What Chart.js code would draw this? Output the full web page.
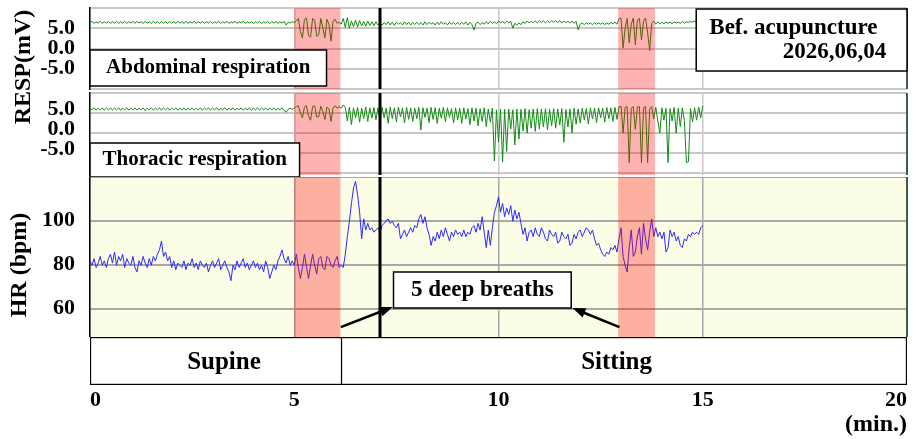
<!DOCTYPE html>
<html>
<head>
<meta charset="utf-8">
<script src="https://cdn.jsdelivr.net/npm/chart.js@4.4.1/dist/chart.umd.min.js"></script>
<style>
  html, body { margin: 0; padding: 0; background: #fff; }
  #wrap { position: relative; width: 920px; height: 439px; overflow: hidden; font-family: 'Liberation Serif', serif; }
  canvas { position: absolute; left: 0; }
  .ytitle { position: absolute; font-weight: bold; font-size: 24px; white-space: nowrap;
            transform: translate(-50%, -50%) rotate(-90deg); }
</style>
</head>
<body>
<div id="wrap">
  <canvas id="cAbd" width="920" height="92" style="top:0"></canvas>
  <canvas id="cTho" width="920" height="85" style="top:92px"></canvas>
  <canvas id="cHr" width="920" height="160" style="top:177px"></canvas>
  <canvas id="cPos" width="920" height="102" style="top:337px"></canvas>
  <div class="ytitle" style="left:22px; top:67px">RESP(mV)</div>
  <div class="ytitle" style="left:18px; top:265px">HR (bpm)</div>
</div>
<script>
const STEP = 0.05; // minutes between samples
const RESP_TICKS = [5, 0, -5];
const HR_TICKS = [100, 80, 60];
const DEEP_BREATHS = [[5.0, 6.13], [12.93, 13.83]];
const MARKER_AT = 7.09;
const PHASES = ['Supine', 'Sitting'];
const PHASE_START = [0, 6.17];
const PHASE_END = [6.17, 20];
const PHASE_LABEL_AT = [3.28, 12.89];

// abdominal respiration (mV), one row per minute
const ABD = [
  6.4,6.7,6.2,6.6,6.3,6.7,6.2,6.6,6.3,6.7,6.2,6.6,6.3,6.7,6.2,6.6,6.3,6.7,6.2,6.6,
  6.3,6.7,6.2,6.7,6.3,6.6,6.2,6.7,6.3,6.6,6.2,6.7,6.3,6.6,6.2,6.7,6.3,6.6,6.2,6.7,
  6.3,6.6,6.2,6.7,6.3,6.6,6.2,6.7,6.2,6.6,6.3,6.7,6.2,6.6,6.3,6.7,6.2,6.6,6.3,6.7,
  6.2,6.6,6.3,6.7,6.2,6.6,6.3,6.7,6.2,6.6,6.3,6.7,6.2,6.6,6.3,6.7,6.2,6.6,6.3,6.6,
  6.2,6.6,6.3,6.7,6.2,6.6,6.3,6.7,6.2,6.6,6.3,6.7,6.2,6.6,6.3,6.7,5.8,6.5,6.3,6.6,
  6.4,6.8,7.4,4.2,2.6,7.2,7.5,3.2,2.8,7.4,7.0,3.0,3.4,7.4,5.0,2.6,7.2,6.0,1.8,6.8,
  7.2,6.2,6.5,6.0,7.4,5.2,7.6,5.0,6.8,5.4,7.0,5.3,6.9,5.6,6.7,5.5,6.8,5.7,6.6,5.6,
  6.6,5.8,6.5,5.7,6.4,5.9,6.6,5.8,6.5,5.7,6.5,6.0,6.4,5.8,6.6,5.9,6.5,5.8,6.4,5.9,
  6.5,5.9,6.4,5.8,6.6,5.9,6.5,6.0,6.4,5.8,6.5,5.9,6.6,6.0,6.4,5.8,6.5,6.0,6.4,5.9,
  6.5,5.9,6.4,6.0,6.6,5.8,6.5,5.9,4.6,6.2,6.5,5.9,6.4,6.0,6.6,6.1,6.7,6.2,6.6,6.1,
  6.8,6.3,6.7,6.2,6.8,6.3,6.7,5.0,6.2,5.8,6.3,5.9,6.6,6.2,6.8,6.3,6.7,6.4,6.8,6.3,
  6.8,6.4,6.9,6.3,6.8,6.4,6.9,6.5,6.8,6.4,6.9,6.3,6.8,6.4,6.7,6.3,6.8,6.2,6.7,4.6,
  6.0,6.3,5.9,6.4,6.0,6.3,5.9,6.4,6.0,6.3,6.0,6.4,5.9,6.3,6.0,6.4,6.1,6.5,6.0,7.4,
  7.5,0.1,5.0,7.4,1.4,6.0,7.5,0.9,7.0,7.4,2.1,6.8,7.5,4.0,-0.5,6.2,6.8,6.0,6.6,6.1,
  6.5,6.1,6.6,6.2,6.5,6.1,6.6,6.3,6.5,6.2,6.7,6.3,6.6,6.4,6.7,6.5,6.8,6.4,6.7,6.5,
  6.6
];

// thoracic respiration (mV)
const THO = [
  6.2,5.8,6.3,5.7,6.2,5.8,6.3,5.7,6.2,5.8,6.3,5.7,6.2,5.8,6.3,5.7,6.2,5.8,6.3,5.7,
  6.2,5.8,6.3,5.7,6.2,5.8,6.3,5.6,6.2,5.8,6.3,5.7,6.2,5.8,6.3,5.7,6.2,5.8,6.3,5.7,
  6.2,5.8,6.3,5.7,6.2,5.8,6.3,5.7,6.2,5.8,6.3,5.7,6.2,5.8,6.3,5.7,6.2,5.8,6.3,5.7,
  6.2,5.8,6.3,5.7,6.2,5.8,6.3,5.7,6.2,5.8,6.3,5.7,6.2,5.8,6.3,5.7,6.2,5.8,6.3,5.7,
  6.2,5.8,6.3,5.7,6.2,5.8,6.3,5.7,6.2,5.8,6.3,5.7,6.2,5.8,6.3,5.6,5.2,5.9,6.2,5.9,
  6.2,6.6,6.8,5.0,3.8,6.5,6.8,4.2,3.2,6.6,6.8,4.0,4.1,6.7,5.4,3.4,6.5,6.0,2.9,6.2,
  6.8,6.2,6.6,6.2,7.0,6.4,3.0,6.5,2.1,6.3,3.8,6.4,2.7,6.2,3.6,6.5,2.9,6.3,3.7,6.4,
  3.3,6.3,2.6,6.4,3.8,6.2,2.4,6.5,3.6,6.3,2.8,6.5,4.0,6.2,2.5,6.4,3.4,6.3,2.9,6.2,
  3.6,6.4,0.7,6.3,3.9,6.2,2.6,6.4,3.4,6.3,2.4,6.2,3.7,6.4,2.8,6.3,3.9,6.1,2.5,6.3,
  3.3,6.2,2.4,6.3,3.5,6.1,2.1,6.3,3.0,6.2,1.8,6.1,2.9,6.3,1.6,6.0,2.7,6.2,-7.0,5.8,
  -2.3,6.0,-7.3,5.9,-4.6,6.0,1.0,5.8,-3.0,6.0,-1.5,5.9,0.5,6.1,0.0,5.8,1.2,6.0,0.4,6.1,
  1.0,6.0,1.5,6.1,0.8,5.9,1.8,6.1,1.2,6.0,2.0,6.1,-2.3,5.9,1.5,6.0,0.0,6.2,2.2,6.0,
  2.5,6.2,3.3,6.1,2.2,6.3,3.5,6.2,2.6,6.3,3.8,6.2,2.7,6.4,3.6,6.3,2.9,6.4,3.4,6.6,
  6.6,0.0,6.4,6.6,-7.4,6.2,6.6,0.9,6.5,6.6,-7.4,6.3,6.6,-7.4,6.0,6.6,3.5,6.4,3.0,0.0,
  6.3,3.2,6.2,-7.4,6.1,3.0,6.4,0.0,6.2,1.6,6.3,3.1,-7.4,-7.2,6.1,2.8,6.3,3.2,6.5,3.8,
  6.8
];

// heart rate (bpm)
const HR = [
  82,80,83,79,81,84,80,82,79,83,85,81,86,80,84,82,85,79,83,81,
  80,84,79,77,82,80,84,81,79,83,80,84,82,85,87,91,84,86,82,84,
  79,82,78,81,80,79,82,78,81,80,83,79,81,78,82,80,79,81,77,80,
  82,79,81,83,78,80,82,79,77,73,80,78,82,79,81,83,79,81,78,80,
  82,79,81,78,80,77,82,79,74,77,80,78,82,84,87,83,81,84,80,82,
  80,85,79,74,79,85,79,74,80,85,80,76,83,84,79,78,84,83,80,79,
  82,84,79,80,79,85,93,100,108,115,118,112,104,92,101,96,99,96,97,95,
  96,97,95,98,99,100,101,99,100,98,97,99,92,94,96,93,95,97,95,98,
  97,101,103,99,102,97,94,89,93,91,95,92,96,93,97,94,91,95,93,96,
  94,95,93,96,93,95,94,97,98,95,99,96,102,95,88,96,89,97,104,107,
  111,104,108,102,106,103,107,100,105,101,104,99,94,97,91,95,96,93,97,94,
  93,97,95,92,91,96,94,93,95,90,91,95,93,92,94,89,90,94,92,95,
  96,93,95,97,96,94,96,92,89,90,87,85,84,86,85,88,87,89,86,92,
  97,84,80,77,88,96,84,86,93,97,85,99,92,87,95,101,93,97,93,95,
  92,95,86,88,96,93,95,91,93,89,88,92,91,94,93,95,94,95,94,97,
  98
];

const FONT = "'Liberation Serif', 'Times New Roman', serif";
const series = vals => vals.map((v, i) => ({ x: +(i * STEP).toFixed(2), y: v }));

// keep the plot area where the layout padding puts it
function noOverhang(s) {
  s.paddingTop = 0;
  s.paddingBottom = 0;
  s.paddingLeft = 0;
  s.paddingRight = 0;
}

function drawBox(ctx, x, y, b) {
  const l = x.getPixelForValue(b.x0), r = x.getPixelForValue(b.x1);
  const t = y.getPixelForValue(b.y0), bt = y.getPixelForValue(b.y1);
  ctx.fillStyle = '#fff';
  ctx.fillRect(l, t, r - l, bt - t);
  ctx.strokeStyle = '#000';
  ctx.lineWidth = 1.5;
  ctx.strokeRect(l, t, r - l, bt - t);
  ctx.fillStyle = '#000';
  ctx.font = `bold ${b.size}px ${FONT}`;
  b.lines.forEach(ln => {
    ctx.textAlign = ln.align || 'center';
    ctx.textBaseline = ln.y !== undefined ? 'alphabetic' : 'middle';
    const px = ln.x !== undefined ? x.getPixelForValue(ln.x) : (l + r) / 2;
    const py = ln.y !== undefined ? y.getPixelForValue(ln.y) : (t + bt) / 2;
    ctx.fillText(ln.text, px, py);
  });
}

function drawArrow(ctx, x, y, a) {
  const x0 = x.getPixelForValue(a.from[0]), y0 = y.getPixelForValue(a.from[1]);
  const x1 = x.getPixelForValue(a.to[0]), y1 = y.getPixelForValue(a.to[1]);
  const ang = Math.atan2(y1 - y0, x1 - x0), head = 13, w = 5;
  const c = Math.cos(ang), s = Math.sin(ang);
  ctx.strokeStyle = '#000';
  ctx.fillStyle = '#000';
  ctx.lineWidth = 2.5;
  ctx.beginPath();
  ctx.moveTo(x0, y0);
  ctx.lineTo(x1 - head * 0.8 * c, y1 - head * 0.8 * s);
  ctx.stroke();
  ctx.beginPath();
  ctx.moveTo(x1, y1);
  ctx.lineTo(x1 - head * c + w * s, y1 - head * s - w * c);
  ctx.lineTo(x1 - head * c - w * s, y1 - head * s + w * c);
  ctx.closePath();
  ctx.fill();
}

// panel background, deep-breath bands, posture marker, notes
const overlay = {
  id: 'overlay',
  beforeDraw(chart, args, o) {
    if (!o.bg) return;
    const a = chart.chartArea;
    chart.ctx.save();
    chart.ctx.fillStyle = o.bg;
    chart.ctx.fillRect(a.left, a.top, a.right - a.left, a.bottom - a.top);
    chart.ctx.restore();
  },
  afterDatasetsDraw(chart, args, o) {
    const { ctx, chartArea: a, scales: { x, y } } = chart;
    ctx.save();
    ctx.fillStyle = 'rgba(255,0,0,0.3)';
    DEEP_BREATHS.forEach(([s, e]) => {
      const x0 = x.getPixelForValue(s), x1 = x.getPixelForValue(e);
      ctx.fillRect(x0, a.top, x1 - x0, a.bottom - a.top);
    });
    ctx.strokeStyle = '#3d5f4c';
    ctx.lineWidth = 2;
    ctx.beginPath();
    ctx.moveTo(a.right, a.top);
    ctx.lineTo(a.right, a.bottom);
    ctx.stroke();
    const mx = Math.round(x.getPixelForValue(MARKER_AT));
    ctx.strokeStyle = '#000';
    ctx.lineWidth = 3;
    ctx.beginPath();
    ctx.moveTo(mx, a.top);
    ctx.lineTo(mx, a.bottom);
    ctx.stroke();
    (o.boxes || []).forEach(b => drawBox(ctx, x, y, b));
    (o.arrows || []).forEach(ar => drawArrow(ctx, x, y, ar));
    ctx.restore();
  }
};

function panelOptions(yMin, yMax, yStep, shown, fmt, pad, gridColor, labelOffset, notes) {
  return {
    responsive: false,
    animation: false,
    layout: { padding: { left: 0, right: 13, top: pad[0], bottom: pad[1] } },
    plugins: { legend: { display: false }, tooltip: { enabled: false }, overlay: notes },
    scales: {
      x: {
        type: 'linear', min: 0, max: 20,
        afterFit: s => { s.height = 0; noOverhang(s); },
        ticks: { display: false, stepSize: 5 },
        grid: { color: gridColor, lineWidth: 1.5, drawTicks: false },
        border: { display: false }
      },
      y: {
        min: yMin, max: yMax,
        afterFit: s => { s.width = 90; noOverhang(s); },
        ticks: {
          stepSize: yStep, includeBounds: false, autoSkip: false, padding: 15, labelOffset: labelOffset,
          color: '#000', font: { family: FONT, size: 22, weight: 'bold' },
          callback: v => shown.includes(v) ? fmt(v) : ''
        },
        grid: { color: gridColor, lineWidth: 2, drawTicks: false },
        border: { display: true, color: '#000', width: 1.5 }
      }
    }
  };
}

function traceChart(id, values, color, opts) {
  return new Chart(document.getElementById(id), {
    type: 'line',
    data: { datasets: [{ data: series(values), borderColor: color, borderWidth: 1, pointRadius: 0, tension: 0 }] },
    options: opts,
    plugins: [overlay]
  });
}

const mv = v => v.toFixed(1);

traceChart('cAbd', ABD, '#138a13',
  panelOptions(-10, 10, 5, RESP_TICKS, mv, [8, 3], '#c8c8c8', 0, {
    boxes: [
      { x0: 0, x1: 5.79, y0: -0.37, y1: -9.26, size: 21, lines: [{ text: 'Abdominal respiration' }] },
      { x0: 14.84, x1: 20, y0: 9.75, y1: -5.56, size: 23, lines: [
        { text: 'Bef. acupuncture', x: 15.16, y: 3.5, align: 'left' },
        { text: '2026,06,04', x: 19.49, y: -2.42, align: 'right' }
      ] }
    ]
  }));

traceChart('cTho', THO, '#138a13',
  panelOptions(-10.5, 10, 5, RESP_TICKS, mv, [1, 2], '#c8c8c8', -4, {
    boxes: [
      { x0: 0, x1: 5.13, y0: -2.5, y1: -11, size: 21, lines: [{ text: 'Thoracic respiration' }] }
    ]
  }));

traceChart('cHr', HR, '#2a2aff',
  panelOptions(47.5, 120, 20, HR_TICKS, v => String(v), [0, 0], '#a8a8a8', -1, {
    bg: '#fcfde6',
    boxes: [
      { x0: 7.43, x1: 11.78, y0: 76.95, y1: 60.64, size: 23, lines: [{ text: '5 deep breaths' }] }
    ],
    arrows: [
      { from: [6.14, 52.0], to: [7.41, 61.1] },
      { from: [12.96, 52.0], to: [11.81, 60.6] }
    ]
  }));

// posture row with the time axis
const phaseLabels = {
  id: 'phaseLabels',
  afterDatasetsDraw(chart) {
    const { ctx, chartArea: a, scales: { x } } = chart;
    ctx.save();
    ctx.fillStyle = '#000';
    ctx.font = `bold 25px ${FONT}`;
    ctx.textAlign = 'center';
    ctx.textBaseline = 'middle';
    PHASES.forEach((p, i) => ctx.fillText(p, x.getPixelForValue(PHASE_LABEL_AT[i]), (a.top + a.bottom) / 2 + 2));
    ctx.restore();
  }
};

new Chart(document.getElementById('cPos'), {
  type: 'bar',
  data: {
    labels: ['posture'],
    datasets: PHASES.map((p, i) => ({
      label: p,
      data: [[PHASE_START[i], PHASE_END[i]]],
      backgroundColor: '#fff',
      borderColor: '#000',
      borderWidth: i === 0 ? 1.5 : { top: 1.5, right: 1.5, bottom: 1.5, left: 0 },
      borderSkipped: false,
      barPercentage: 1,
      categoryPercentage: 1,
      grouped: false
    }))
  },
  options: {
    indexAxis: 'y',
    responsive: false,
    animation: false,
    layout: { padding: { left: 90, right: 13, top: 0, bottom: 0 } },
    plugins: { legend: { display: false }, tooltip: { enabled: false } },
    scales: {
      y: { display: false },
      x: {
        type: 'linear', min: 0, max: 20,
        afterFit: s => { s.height = 54; },
        ticks: { stepSize: 5, padding: 2, align: 'inner', color: '#000', font: { family: FONT, size: 22, weight: 'bold' } },
        grid: { display: false, drawTicks: false },
        border: { display: false },
        title: { display: true, text: '(min.)', align: 'end', padding: 0, color: '#000',
                 font: { family: FONT, size: 24, weight: 'bold' } }
      }
    }
  },
  plugins: [phaseLabels]
});
</script>
</body>
</html>
